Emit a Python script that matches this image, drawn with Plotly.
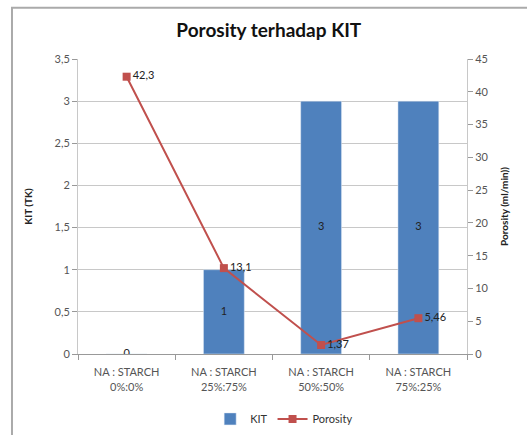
import plotly.graph_objects as go

categories = ["NA : STARCH<br>0%:0%", "NA : STARCH<br>25%:75%", "NA : STARCH<br>50%:50%", "NA : STARCH<br>75%:25%"]
kit = [0, 1, 3, 3]
porosity = [42.3, 13.1, 1.37, 5.46]
kit_labels = ["0", "1", "3", "3"]
por_labels = ["42,3", "13,1", "1,37", "5,46"]

font = "Lato, 'Open Sans', sans-serif"
fig = go.Figure()
fig.add_trace(go.Bar(x=categories, y=kit, name="KIT", marker_color="#4F81BD", width=0.42,
                     yaxis="y"))
fig.add_trace(go.Scatter(x=categories, y=[v / 2 for v in kit], text=kit_labels, mode="text",
                         textposition="middle center", textfont=dict(size=11, color="#222"),
                         showlegend=False, hoverinfo="skip", yaxis="y"))
fig.add_trace(go.Scatter(x=categories, y=porosity, name="Porosity", mode="lines+markers+text",
                         text=por_labels, textposition="middle right",
                         textfont=dict(size=11, color="#222"),
                         line=dict(color="#C0504D", width=2),
                         marker=dict(symbol="square", size=8, color="#C0504D"),
                         yaxis="y2"))

fig.update_layout(
    width=527, height=435,
    margin=dict(l=78, r=60, t=59, b=81, autoexpand=False),
    paper_bgcolor="white", plot_bgcolor="white",
    separators=", ",
    font=dict(family=font, size=11, color="#444"),
    title=dict(text="<b>Porosity terhadap KIT</b>", x=0.51, xanchor="center", y=0.93,
               yanchor="middle", font=dict(size=19, color="#111", family=font)),
    xaxis=dict(type="category", tickson="boundaries", ticks="outside", ticklen=5,
               tickcolor="#999", showline=True, linecolor="#999", showgrid=False,
               automargin=False, ticklabelstandoff=8, tickfont=dict(size=11, color="#555")),
    yaxis=dict(range=[0, 3.5], dtick=0.5, tickformat=".1~f", showgrid=True, gridcolor="#c8c8c8",
               showline=True, linecolor="#c8c8c8", ticks="outside", ticklen=5, tickcolor="#999",
               zeroline=False, automargin=False,
               title=dict(text="<b>KIT (TK)</b>", font=dict(size=10, color="#222"), standoff=20),
               tickfont=dict(size=11, color="#555")),
    yaxis2=dict(range=[0, 45], dtick=5, overlaying="y", side="right", showgrid=False,
                showline=True, linecolor="#c8c8c8", ticks="outside", ticklen=5, tickcolor="#999",
                zeroline=False, automargin=False,
                title=dict(text="<b>Porosity (ml/min))</b>", font=dict(size=10, color="#222"),
                           standoff=13),
                tickfont=dict(size=11, color="#555")),
    legend=dict(orientation="h", x=0.53, xanchor="center", y=-0.22, yanchor="middle",
                font=dict(size=11, color="#333"), itemwidth=30),
    bargap=0.58,
)
fig.add_shape(type="rect", xref="paper", yref="paper", x0=-0.1697, x1=1.3, y0=-0.35, y1=1.174,
              line=dict(color="#aaa", width=2), fillcolor="rgba(0,0,0,0)", layer="below")
fig.write_html("out.html", config={"displayModeBar": False},
               post_script="document.body.style.margin='0';")
